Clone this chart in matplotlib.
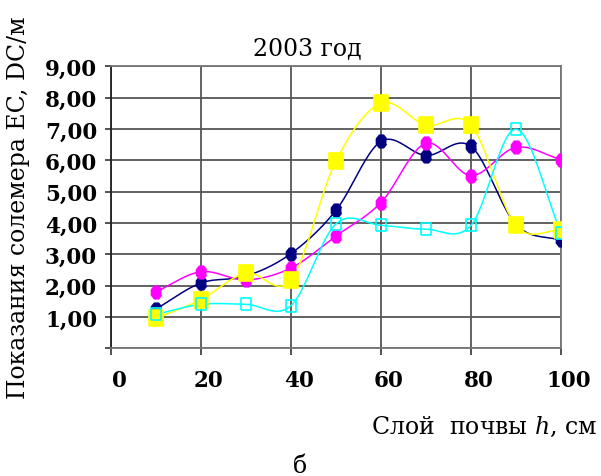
import numpy as np
import matplotlib
matplotlib.use("Agg")
import matplotlib.pyplot as plt
import matplotlib.transforms as mtransforms

# depth of soil layer, cm
depth = [10, 20, 30, 40, 50, 60, 70, 80, 90, 100]

# solemeter readings for four plots
navy_vals = [1.25, 2.08, 2.30, 3.02, 4.40, 6.60, 6.15, 6.44, 3.95, 3.44]
magenta_vals = [1.80, 2.44, 2.18, 2.56, 3.58, 4.65, 6.54, 5.51, 6.41, 6.02]
yellow_vals = [0.95, 1.55, 2.40, 2.18, 5.98, 7.82, 7.12, 7.12, 3.92, 3.76]
cyan_vals = [1.08, 1.40, 1.40, 1.36, 3.97, 3.92, 3.80, 3.92, 6.99, 3.69]

y_ticks = [0, 1, 2, 3, 4, 5, 6, 7, 8, 9]
y_labels = ["", "1,00", "2,00", "3,00", "4,00", "5,00", "6,00", "7,00", "8,00", "9,00"]
x_ticks = [0, 20, 40, 60, 80, 100]


def smooth(x, y, n=24):
    # catmull-rom style smoothing like the excel "smoothed line"
    x = np.asarray(x, float)
    y = np.asarray(y, float)
    px = np.concatenate([[2 * x[0] - x[1]], x, [2 * x[-1] - x[-2]]])
    py = np.concatenate([[2 * y[0] - y[1]], y, [2 * y[-1] - y[-2]]])
    xs, ys = [], []
    t = np.linspace(0, 1, n)
    for i in range(1, len(px) - 2):
        for p, out in ((px, xs), (py, ys)):
            p0, p1, p2, p3 = p[i - 1], p[i], p[i + 1], p[i + 2]
            c = 0.5 * ((2 * p1) + (-p0 + p2) * t + (2 * p0 - 5 * p1 + 4 * p2 - p3) * t ** 2
                       + (-p0 + 3 * p1 - 3 * p2 + p3) * t ** 3)
            out.extend(c)
    return np.array(xs), np.array(ys)


# slightly tall octagon marker
ang = np.deg2rad(np.arange(22.5, 360, 45))
octa = list(zip(0.8 * np.cos(ang), np.sin(ang)))
tall_sq = [(-0.8, -1), (0.8, -1), (0.8, 1), (-0.8, 1), (-0.8, -1)]

plt.rcParams['font.family'] = ['DejaVu Serif']
plt.rcParams['mathtext.fontset'] = 'dejavuserif'

fig = plt.figure(figsize=(6.01, 4.77), dpi=100)
ax = fig.add_axes([0.1847, 0.268, 0.7487, 0.591])

series = [
    (navy_vals, '#000080', octa, 9, '#000080'),
    (magenta_vals, '#FF00FF', octa, 9, '#FF00FF'),
    (yellow_vals, '#FFFF00', tall_sq, 12, '#FFFF00'),
    (cyan_vals, '#00FFFF', tall_sq, 9, 'none'),
]
for vals, col, mk, ms, fc in series:
    sx, sy = smooth(depth, vals)
    ax.plot(sx, sy, color=col, lw=1.1, zorder=3)
    ax.plot(depth, vals, ls='none', marker=mk, ms=ms, mfc=fc, mec=col,
            mew=1.2, zorder=4)

ax.set_xlim(0, 100)
ax.set_ylim(0, 9)
ax.set_xticks(x_ticks)
ax.set_xticklabels([str(v) for v in x_ticks], fontsize=15.5, fontweight='bold')
ax.set_yticks(y_ticks)
ax.set_yticklabels(y_labels, fontsize=15.5, fontweight='bold')
ax.tick_params(axis='x', length=5, width=1.2, pad=10, color='#333333')
ax.tick_params(axis='y', length=4, width=1.2, pad=6, color='#333333')
# x labels sit a bit right of their ticks in the original
shift = mtransforms.ScaledTranslation(8 / 100, 0, fig.dpi_scale_trans)
for lab in ax.get_xticklabels():
    lab.set_transform(lab.get_transform() + shift)
ax.grid(True, color='#555555', lw=1.3, zorder=1)
for s in ax.spines.values():
    s.set_color('#777777')
    s.set_linewidth(1.3)
ax.spines['left'].set_color('#222222')

fig.text(0.512, 0.899, "2003 год", ha='center', va='center', fontsize=17)
fig.text(0.030, 0.564, "Показания солемера EC, DC/м", rotation=90,
         ha='center', va='center', fontsize=17)
fig.text(0.994, 0.105, r"Слой  почвы $h$, см", ha='right',
         va='center', fontsize=17)
fig.text(0.499, 0.023, "б", ha='center', va='center', fontsize=17)

fig.savefig("out.png", dpi=100)
